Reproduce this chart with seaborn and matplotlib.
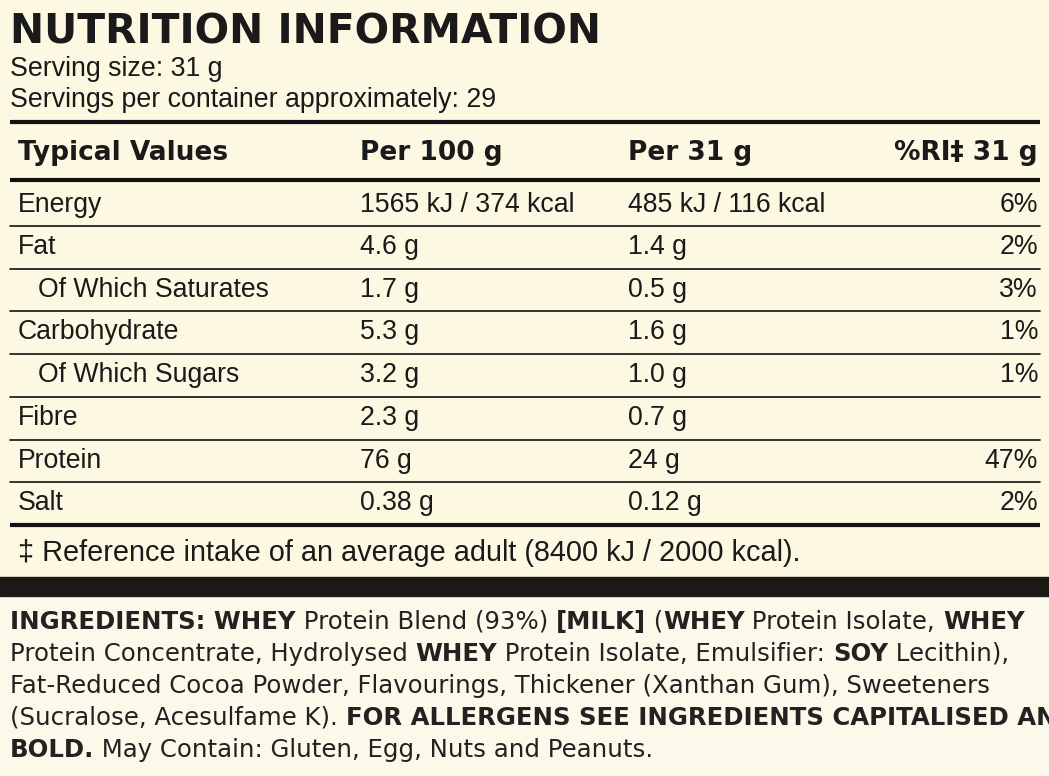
import matplotlib
matplotlib.use("Agg")
import matplotlib.pyplot as plt
import seaborn as sns
from matplotlib.patches import Rectangle

sns.set_theme(style="white")
plt.rcParams['font.family'] = ['Liberation Sans', 'DejaVu Sans']

title = "NUTRITION INFORMATION"
serving = ["Serving size: 31 g", "Servings per container approximately: 29"]
headers = ["Typical Values", "Per 100 g", "Per 31 g", "%RI\u2021 31 g"]
nutrients = ["Energy", "Fat", "Of Which Saturates", "Carbohydrate", "Of Which Sugars", "Fibre", "Protein", "Salt"]
indent = [False, False, True, False, True, False, False, False]
per100 = ["1565 kJ / 374 kcal", "4.6 g", "1.7 g", "5.3 g", "3.2 g", "2.3 g", "76 g", "0.38 g"]
per31 = ["485 kJ / 116 kcal", "1.4 g", "0.5 g", "1.6 g", "1.0 g", "0.7 g", "24 g", "0.12 g"]
ri = ["6%", "2%", "3%", "1%", "1%", "", "47%", "2%"]
footnote = "\u2021 Reference intake of an average adult (8400 kJ / 2000 kcal)."
ingredients = [
    [("INGREDIENTS: WHEY", True), (" Protein Blend (93%) ", False), ("[MILK]", True), (" (", False), ("WHEY", True), (" Protein Isolate, ", False), ("WHEY", True)],
    [("Protein Concentrate, Hydrolysed ", False), ("WHEY", True), (" Protein Isolate, Emulsifier: ", False), ("SOY", True), (" Lecithin),", False)],
    [("Fat-Reduced Cocoa Powder, Flavourings, Thickener (Xanthan Gum), Sweeteners", False)],
    [("(Sucralose, Acesulfame K). ", False), ("FOR ALLERGENS SEE INGREDIENTS CAPITALISED AND", True)],
    [("BOLD.", True), (" May Contain: Gluten, Egg, Nuts and Peanuts.", False)],
]

W, H = 1049, 776
fig = plt.figure(figsize=(W/100, H/100), dpi=100)
fig.patch.set_facecolor("#fdf8e2")
ax = fig.add_axes([0, 0, 1, 1])
ax.set_xlim(0, W); ax.set_ylim(H, 0); ax.axis("off")

txt = "#1a1a1a"
ax.text(10, 32, title, fontsize=29.3, fontweight="heavy", family=["DejaVu Sans"], va="center", color=txt)
ax.text(10, 69, serving[0], fontsize=19.3, va="center", color=txt)
ax.text(10, 100, serving[1], fontsize=19.3, va="center", color=txt)

xl, xr = 10, 1040
for y, lw in [(122, 3), (180, 3), (525, 3)]:
    ax.plot([xl, xr], [y, y], color="#111", lw=lw, solid_capstyle="butt")
row_y = [205, 247, 290, 332, 375, 418, 461, 503]
for i in range(len(row_y) - 1):
    y = (row_y[i] + row_y[i+1]) / 2
    ax.plot([xl, xr], [y, y], color="#111", lw=1.2)

hx = [18, 360, 628, 1038]
for j, h in enumerate(headers):
    ax.text(hx[j], 153, h, fontsize=19, fontweight="bold", va="center",
            ha="right" if j == 3 else "left", color=txt, family=["DejaVu Sans"])
for i, n in enumerate(nutrients):
    y = row_y[i]
    ax.text(38 if indent[i] else 18, y, n, fontsize=19.2, va="center", color=txt)
    ax.text(360, y, per100[i], fontsize=19.2, va="center", color=txt)
    ax.text(628, y, per31[i], fontsize=19.2, va="center", color=txt)
    ax.text(1038, y, ri[i], fontsize=19.2, va="center", ha="right", color=txt)
ax.text(18, 553, footnote, fontsize=20.8, va="center", color=txt)

ax.add_patch(Rectangle((0, 577), W, 19, color="#1c1a17", zorder=2))
ax.add_patch(Rectangle((0, 596), W, H-596, color="#fdf9ea", zorder=1))

fig.canvas.draw()
r = fig.canvas.get_renderer()
ly = [622, 654, 686, 718, 750]
for line, y in zip(ingredients, ly):
    x = 10
    for s, b in line:
        t = ax.text(x, y, s, fontsize=17.6, fontweight="bold" if b else "normal",
                    family=["DejaVu Sans"], va="center", color="#222", zorder=3)
        bb = t.get_window_extent(renderer=r)
        x += bb.width
fig.savefig("out.png", dpi=100, facecolor=fig.get_facecolor())
